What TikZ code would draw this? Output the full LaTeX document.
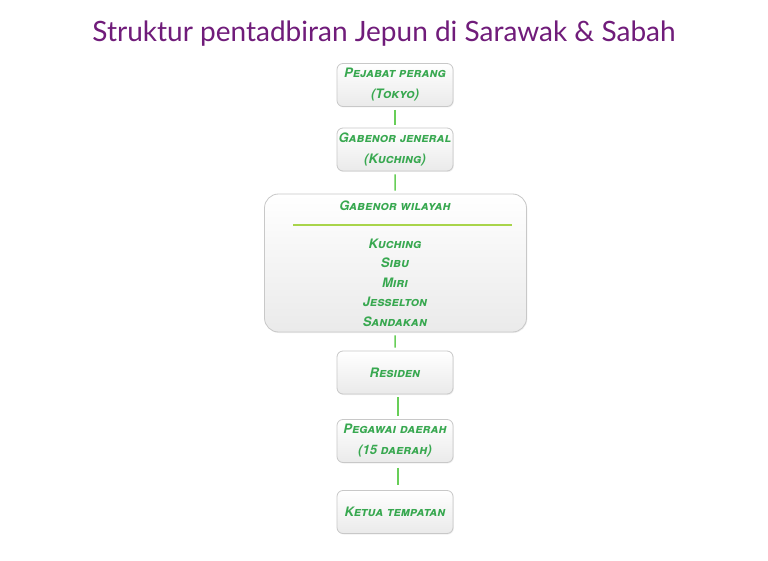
\documentclass[tikz,border=0pt]{standalone}
\usepackage{fontspec}
\setmainfont{Lato}
\newfontfamily\boxfont[Letters=SmallCaps]{TeX Gyre Heros}
\usetikzlibrary{shadows}
\definecolor{titlepurple}{RGB}{112,28,122}
\definecolor{labelgreen}{RGB}{56,168,80}
\definecolor{linkgreen}{RGB}{104,206,88}
\definecolor{rulegreen}{RGB}{168,212,74}
\definecolor{boxline}{RGB}{200,200,200}
\definecolor{boxfill}{RGB}{234,234,234}
\begin{document}
\begin{tikzpicture}[x=1pt,y=1pt,
  box/.style={draw=boxline, line width=0.8pt, rounded corners=6pt, top color=white, bottom color=boxfill,
    drop shadow={shadow xshift=0.8pt, shadow yshift=-1pt, opacity=0.12},
    minimum width=116pt, minimum height=43pt, inner sep=0pt, align=center, text=labelgreen,
    font=\boxfont\bfseries\itshape\fontsize{13}{21}\selectfont},
  link/.style={draw=linkgreen, line width=1.6pt, shorten <=3pt, shorten >=3pt}]
\fill[white] (0,0) rectangle (768,-561);
\useasboundingbox (0,0) rectangle (768,-561);
\node[text=titlepurple, font=\fontsize{28}{32}\selectfont] (title) at (384,-34) {Struktur pentadbiran Jepun di Sarawak \& Sabah};
\node[box] (perang) at (395,-85) {Pejabat perang\\(Tokyo)};
\node[box] (jeneral) at (395,-149.5) {Gabenor jeneral\\(Kuching)};
\node[box, rounded corners=14pt, minimum width=262pt, minimum height=138pt] (wilayah) at (395.5,-263) {};
\node[text=labelgreen, font=\boxfont\bfseries\itshape\fontsize{13}{21}\selectfont] (wilayahtitle) at (395,-206) {Gabenor wilayah};
\draw[rulegreen, line width=1.4pt] (293,-225) -- (512,-225);
\node[align=center, text=labelgreen, font=\boxfont\bfseries\itshape\fontsize{13}{19.5}\selectfont] (bandar) at (395,-282.5) {Kuching\\Sibu\\Miri\\Jesselton\\Sandakan};
\node[box] (residen) at (395,-372.5) {Residen};
\node[box] (pegawai) at (395,-441) {Pegawai daerah\\(15 daerah)};
\node[box] (ketua) at (395,-512) {Ketua tempatan};
\draw[link] (perang) -- (jeneral);
\draw[link] (jeneral) -- (wilayah);
\draw[link] (wilayah) -- (residen);
\draw[link] ([xshift=3pt]residen.south) -- ([xshift=3pt]pegawai.north);
\draw[link, shorten <=5pt, shorten >=5pt] ([xshift=3pt]pegawai.south) -- ([xshift=3pt]ketua.north);
\end{tikzpicture}
\end{document}
